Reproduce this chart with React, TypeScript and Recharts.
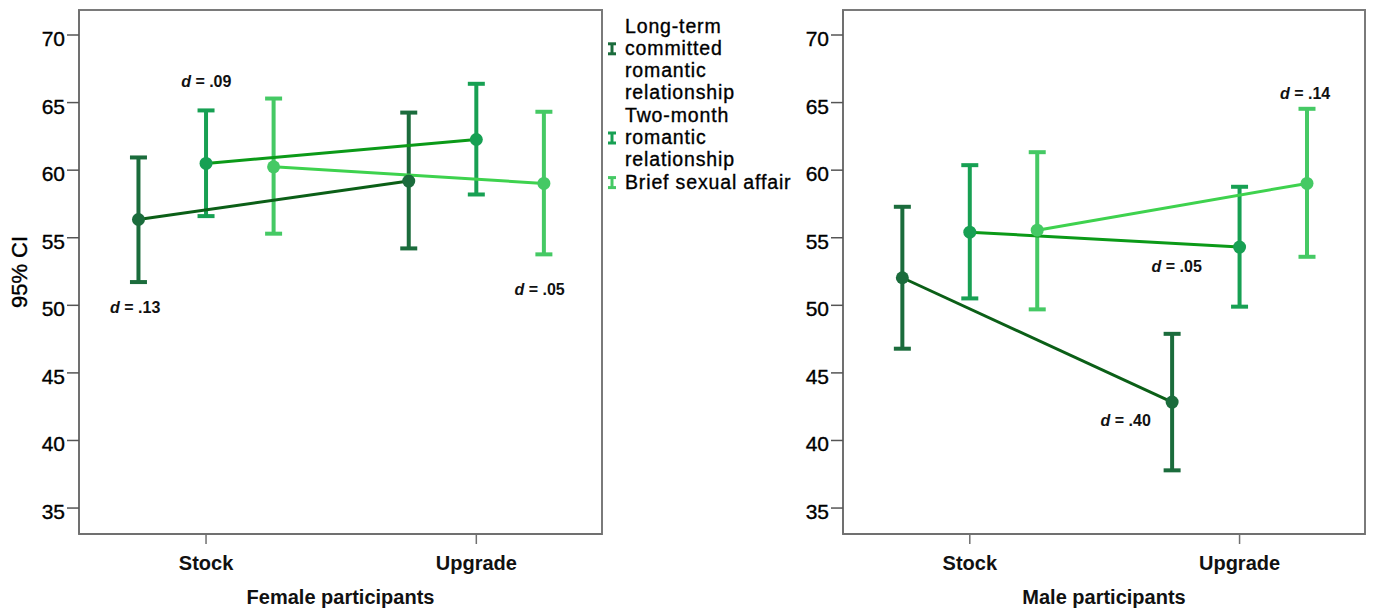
import React from 'react';
import { ComposedChart, Line, XAxis, YAxis, ErrorBar, ReferenceArea, ReferenceDot } from 'recharts';

const FONT = '"Liberation Sans", Arial, Helvetica, sans-serif';

// ---- categories / series ----
const categories = ['Stock', 'Upgrade'];
const categoryPositions = [1, 2];
const seriesNames = [
  'Long-term committed romantic relationship',
  'Two-month romantic relationship',
  'Brief sexual affair',
];
const legendLines = [
  ['Long-term', 'committed', 'romantic', 'relationship'],
  ['Two-month', 'romantic', 'relationship'],
  ['Brief sexual affair'],
];
const seriesOffsets = [-0.25, 0, 0.25];
const errorBarColors = ['#1b6c3c', '#17a053', '#45c964'];
const lineColors = ['#0b5f17', '#0b9a18', '#3ed24e'];

// ---- axes ----
const yTicks = [35, 40, 45, 50, 55, 60, 65, 70];
const yDomain = [33.08, 71.85];
const xDomain = [0.53, 2.465];

// ---- Female participants (mean, lower CI, upper CI) ----
const femaleMeanLongTerm = [56.35, 59.19];
const femaleLowLongTerm = [51.72, 54.21];
const femaleHighLongTerm = [60.94, 64.26];
const femaleMeanTwoMonth = [60.5, 62.27];
const femaleLowTwoMonth = [56.6, 58.2];
const femaleHighTwoMonth = [64.42, 66.39];
const femaleMeanBrief = [60.25, 59.02];
const femaleLowBrief = [55.3, 53.77];
const femaleHighBrief = [65.3, 64.32];

// ---- Male participants ----
const maleMeanLongTerm = [52.04, 42.84];
const maleLowLongTerm = [46.79, 37.79];
const maleHighLongTerm = [57.29, 47.89];
const maleMeanTwoMonth = [55.41, 54.31];
const maleLowTwoMonth = [50.51, 49.9];
const maleHighTwoMonth = [60.37, 58.77];
const maleMeanBrief = [55.56, 59.02];
const maleLowBrief = [49.7, 53.59];
const maleHighBrief = [61.33, 64.54];

// ---- effect size annotations ----
const femaleEffectText = ['.13', '.09', '.05'];
const femaleEffectX = [0.738, 1.001, 2.234];
const femaleEffectY = [49.87, 66.56, 51.18];
const maleEffectText = ['.40', '.05', '.14'];
const maleEffectX = [1.578, 1.767, 2.243];
const maleEffectY = [41.49, 52.88, 65.72];

type Pt = { x: number; y: number; err: [number, number] };

function makeSeries(means: number[], lows: number[], highs: number[], offset: number): Pt[] {
  return means.map((m, i) => ({
    x: categoryPositions[i] + offset,
    y: m,
    err: [m - lows[i], highs[i] - m] as [number, number],
  }));
}

const femaleSeries = [
  makeSeries(femaleMeanLongTerm, femaleLowLongTerm, femaleHighLongTerm, seriesOffsets[0]),
  makeSeries(femaleMeanTwoMonth, femaleLowTwoMonth, femaleHighTwoMonth, seriesOffsets[1]),
  makeSeries(femaleMeanBrief, femaleLowBrief, femaleHighBrief, seriesOffsets[2]),
];
const maleSeries = [
  makeSeries(maleMeanLongTerm, maleLowLongTerm, maleHighLongTerm, seriesOffsets[0]),
  makeSeries(maleMeanTwoMonth, maleLowTwoMonth, maleHighTwoMonth, seriesOffsets[1]),
  makeSeries(maleMeanBrief, maleLowBrief, maleHighBrief, seriesOffsets[2]),
];

const EffectText = (props: any) => {
  const vb = props.viewBox || {};
  const cx = (vb.x || 0) + (vb.width || 0) / 2;
  const cy = (vb.y || 0) + (vb.height || 0) / 2;
  return (
    <text
      x={cx}
      y={cy + 6}
      textAnchor="middle"
      fontFamily={FONT}
      fontSize={16}
      fontWeight="bold"
      fill="#111"
    >
      <tspan fontStyle="italic">d</tspan>
      {' = ' + props.text}
    </text>
  );
};

const YTitle = (props: any) => {
  const vb = props.viewBox || { x: 0, y: 0, height: 0 };
  const cx = vb.x + 27;
  const cy = vb.y + vb.height / 2;
  return (
    <text
      x={cx}
      y={cy}
      transform={`rotate(-90, ${cx}, ${cy})`}
      textAnchor="middle"
      fontFamily={FONT}
      fontSize={22}
      fill="#000"
      stroke="#000"
      strokeWidth={0.35}
    >
      95% CI
    </text>
  );
};

type PanelProps = {
  title: string;
  series: Pt[][];
  effectText: string[];
  effectX: number[];
  effectY: number[];
  showYTitle: boolean;
  width: number;
};

function Panel({ title, series, effectText, effectX, effectY, showYTitle, width }: PanelProps) {
  return (
    <ComposedChart width={width} height={610} margin={{ top: 10, right: 8, bottom: 0, left: 0 }}>
      <XAxis
        type="number"
        dataKey="x"
        domain={xDomain}
        ticks={categoryPositions}
        allowDataOverflow
        tickFormatter={(v: number) => categories[Math.round(v) - 1]}
        axisLine={{ stroke: '#707070', strokeWidth: 2 }}
        tickLine={{ stroke: '#707070', strokeWidth: 1.5 }}
        tickSize={10}
        tickMargin={12}
        height={76}
        tick={{ fill: '#111', fontSize: 20, fontWeight: 'bold', fontFamily: FONT }}
        label={{
          value: title,
          position: 'insideBottom',
          offset: 6,
          fill: '#111',
          fontSize: 20,
          fontWeight: 'bold',
          fontFamily: FONT,
        }}
      />
      <YAxis
        type="number"
        domain={yDomain}
        ticks={yTicks}
        allowDataOverflow
        width={79}
        tickSize={12}
        tickMargin={2}
        axisLine={{ stroke: '#707070', strokeWidth: 2 }}
        tickLine={{ stroke: '#555', strokeWidth: 1.5 }}
        tick={{ fill: '#000', fontSize: 21, fontFamily: FONT, dy: 3.5, stroke: '#000', strokeWidth: 0.35 }}
        label={showYTitle ? <YTitle /> : undefined}
      />
      <ReferenceArea
        x1={xDomain[0]}
        x2={xDomain[1]}
        y1={yDomain[0]}
        y2={yDomain[1]}
        fill="none"
        fillOpacity={0}
        stroke="#7a7a7a"
        strokeWidth={2}
        ifOverflow="visible"
      />
      {series.map((pts, i) => (
        <Line
          key={'eb' + i}
          data={pts}
          dataKey="y"
          name={seriesNames[i] + ' CI'}
          stroke="none"
          dot={false}
          activeDot={false}
          legendType="none"
          isAnimationActive={false}
        >
          <ErrorBar
            dataKey="err"
            direction="y"
            width={8.5}
            stroke={errorBarColors[i]}
            strokeWidth={4}
            isAnimationActive={false}
          />
        </Line>
      ))}
      {series.map((pts, i) => (
        <Line
          key={'ln' + i}
          data={pts}
          dataKey="y"
          name={seriesNames[i]}
          stroke={lineColors[i]}
          strokeWidth={3}
          dot={{ r: 6.5, fill: errorBarColors[i], stroke: errorBarColors[i], strokeWidth: 0 }}
          activeDot={false}
          isAnimationActive={false}
        />
      ))}
      {effectText.map((t, i) => (
        <ReferenceDot
          key={'ef' + i}
          x={effectX[i]}
          y={effectY[i]}
          r={0}
          fill="none"
          stroke="none"
          ifOverflow="visible"
          label={<EffectText text={t} />}
        />
      ))}
    </ComposedChart>
  );
}

function LegendBox() {
  const lineHeight = 22.3;
  const firstBaseline = 32.5;
  let lineIndex = 0;
  const items: React.ReactNode[] = [];
  legendLines.forEach((lines, s) => {
    const iconLine = lineIndex + Math.min(1, lines.length - 1);
    const iconCy = firstBaseline + iconLine * lineHeight - 6;
    items.push(
      <g key={'ic' + s} stroke={errorBarColors[s]} strokeWidth={3} fill="none">
        <line x1={8} x2={16} y1={iconCy - 5} y2={iconCy - 5} />
        <line x1={12} x2={12} y1={iconCy - 5} y2={iconCy + 5} />
        <line x1={8} x2={16} y1={iconCy + 5} y2={iconCy + 5} />
      </g>
    );
    lines.forEach((ln, k) => {
      items.push(
        <text
          key={'t' + s + '-' + k}
          x={25}
          y={firstBaseline + (lineIndex + k) * lineHeight}
          fontFamily={FONT}
          fontSize={19.5}
          letterSpacing={0.85}
          fill="#000"
          stroke="#000"
          strokeWidth={0.35}
        >
          {ln}
        </text>
      );
    });
    lineIndex += lines.length;
  });
  return (
    <svg width={200} height={200} style={{ display: 'block' }}>
      {items}
    </svg>
  );
}

export default function App() {
  return (
    <div style={{ position: 'absolute', left: 0, top: 0, width: 1373, height: 610, background: '#fff' }}>
      <div style={{ position: 'absolute', left: 0, top: 0 }}>
        <Panel
          title="Female participants"
          series={femaleSeries}
          effectText={femaleEffectText}
          effectX={femaleEffectX}
          effectY={femaleEffectY}
          showYTitle={true}
          width={610}
        />
      </div>
      <div style={{ position: 'absolute', left: 764, top: 0 }}>
        <Panel
          title="Male participants"
          series={maleSeries}
          effectText={maleEffectText}
          effectX={maleEffectX}
          effectY={maleEffectY}
          showYTitle={false}
          width={609}
        />
      </div>
      <div style={{ position: 'absolute', left: 600, top: 0 }}>
        <LegendBox />
      </div>
    </div>
  );
}
